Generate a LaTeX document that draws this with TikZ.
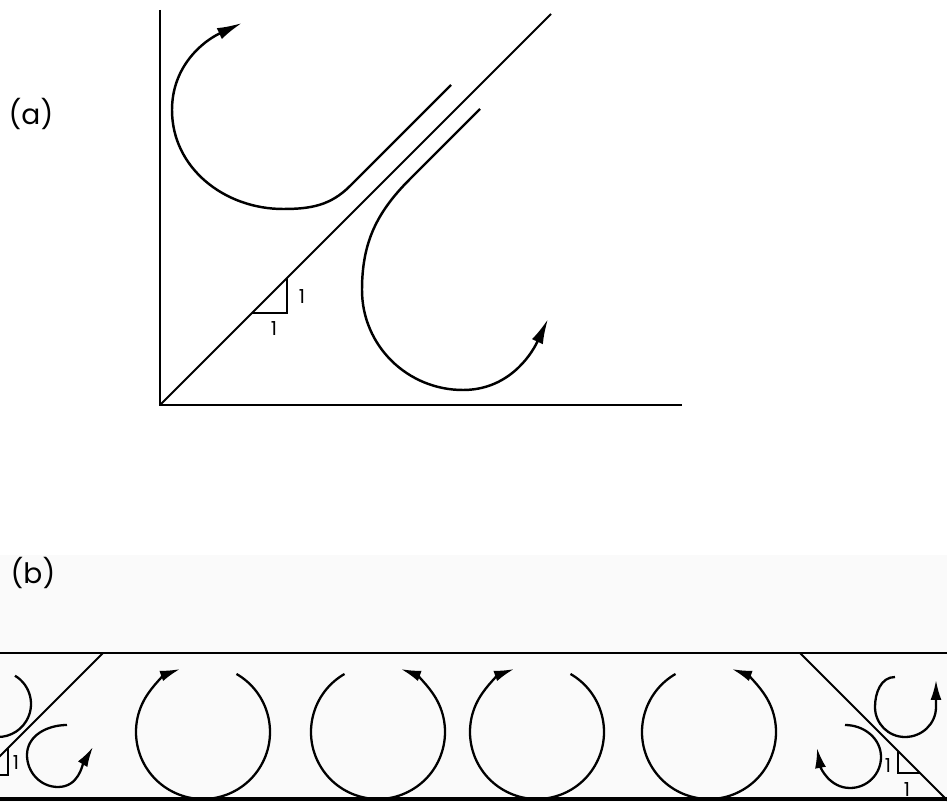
\documentclass[tikz,border=0pt]{standalone}
\usepackage{fontspec}
\setmainfont{Poppins}
\usepackage{tikz}
\usetikzlibrary{arrows.meta}

\begin{document}
\begin{tikzpicture}[x=0.02cm,y=0.02cm,
  wall/.style={line width=1.4pt},
  slope/.style={line width=1.1pt},
  leg/.style={line width=0.8pt},
  flow/.style={line width=1.4pt,-{Latex[length=5mm,width=2.4mm]}},
  eddy/.style={line width=1.3pt,-{Latex[length=4mm,width=2.2mm]}},
  unit/.style={font=\fontsize{11}{13}\selectfont,inner sep=0pt}]
\useasboundingbox (0,0) rectangle (947,802);
\fill[black!2] (0,0) rectangle (947,247);
% (a)
\node[font=\fontsize{16}{19}\selectfont] (laba) at (31,688) {(a)};
\draw[wall] (160,792) -- (160,397) -- (682,397);
\draw[slope] (160,397) -- (551,788);
\draw[leg] (252,489) -- (287,489) -- (287,524);
\node[unit] (ua1) at (302,505) {1};
\node[unit] (ua2) at (274,473) {1};
\draw[flow] (451,717) -- (350,616) to[out=225,in=0] (283,593) to[out=180,in=-90] (172,692) to[out=90,in=205] (242,779);
\draw[flow] (480,693) -- (410,623) to[out=225,in=90] (362,512) to[out=-90,in=180] (463,412) to[out=0,in=245] (548,483);
% (b)
\node[font=\fontsize{16}{19}\selectfont] (labb) at (33,229) {(b)};
\begin{scope}
\clip (0,0) rectangle (947,247);
\draw[wall] (0,149) -- (947,149);
\draw[line width=2pt] (0,3) -- (947,3);
\draw[slope] (103,149) -- (-46,0);
\draw[slope] (800,149) -- (949,0);
\draw[leg] (0,27) -- (8,27) -- (8,54);
\draw[leg] (898,51) -- (898,29) -- (920,29);
\node[unit] (ub1) at (16,39) {1};
\node[unit] (ub2) at (888,36) {1};
\node[unit] (ub3) at (907,12) {1};
\foreach \cx/\sa/\ea in {203/60/-250,378/120/430,537/60/-250,709/120/430}
  \draw[eddy] (\cx,70) ++(\sa:67) arc[start angle=\sa,end angle=\ea,radius=67];
% corner eddies
\draw[line width=1.3pt] (-2,98) ++(59:33) arc[start angle=59,end angle=-100,radius=33];
\draw[eddy] (67,77) to[out=180,in=90] (27,47) to[out=-90,in=180] (58,15) to[out=0,in=239] (93,55);
\draw[eddy] (895,125) to[out=180,in=90] (875,95) to[out=-90,in=180] (905,65) to[out=0,in=-90] (936,95) -- (936,122);
\draw[eddy] (845,77) to[out=0,in=90] (881,45) to[out=-90,in=0] (850,14) to[out=180,in=-80] (817,54);
\end{scope}
\end{tikzpicture}
\end{document}
